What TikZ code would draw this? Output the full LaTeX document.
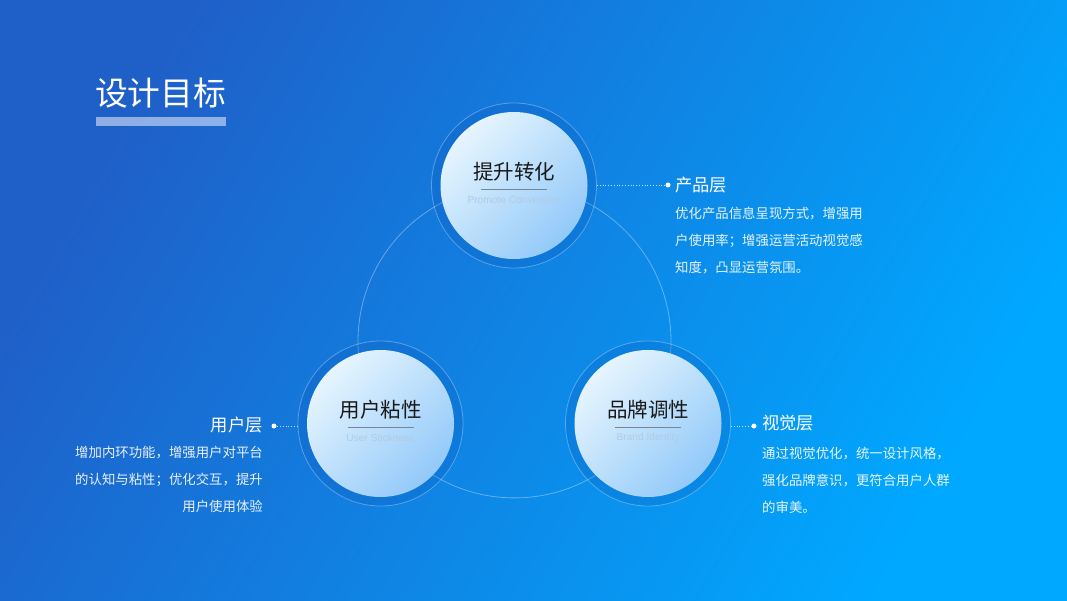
\documentclass[tikz,border=0pt]{standalone}
\usepackage{fontspec}
\setmainfont{Noto Sans CJK SC}
\newfontfamily\latinfont{Liberation Sans}
\definecolor{bgA}{HTML}{1F5FC8}
\definecolor{bgB}{HTML}{00A8FF}
\definecolor{discA}{HTML}{E6F5FE}
\definecolor{discB}{HTML}{92C9F9}
\definecolor{ringdark}{HTML}{0A55B8}
\definecolor{tagcol}{HTML}{B2CBE4}
\definecolor{sepcol}{HTML}{74869A}
\begin{document}
\begin{tikzpicture}[x=1pt,y=1pt,
  ring/.style={circle, inner sep=0, minimum size=165, fill=ringdark, fill opacity=0.22, draw=white, draw opacity=0.3, line width=0.8},
  disc/.style={circle, inner sep=0, minimum size=147, top color=discA, bottom color=discB, shading angle=45},
  ctitle/.style={inner sep=0, text=black!90, font=\fontsize{20.5}{24}\selectfont},
  ctag/.style={inner sep=0, text=tagcol, font=\latinfont\fontsize{10.2}{12}\selectfont},
  sepline/.style={draw=sepcol, line width=0.7},
  bigring/.style={circle, inner sep=0, minimum size=313, draw=white, draw opacity=0.35, line width=0.8},
  dotline/.style={draw=white, draw opacity=0.75, dotted, line width=0.8},
  enddot/.style={circle, fill=white, inner sep=0, minimum size=5},
  head/.style={inner sep=0, text=white, font=\fontsize{17.3}{20}\selectfont},
  body/.style={inner sep=0, text=white, text opacity=0.9, font=\fontsize{13.4}{27}\selectfont}
]
\useasboundingbox (0,0) rectangle (1067,600);
\shade[top color=bgA, bottom color=bgB, shading angle=60] (0,0) rectangle (1067,600);

% title
\node[inner sep=0, anchor=west, text=white, font=\fontsize{32.75}{36}\selectfont] (title) at (95,507) {设计目标};
\fill[white, opacity=0.5] (96,474) rectangle (226,483);

% big connecting circle
\node[bigring] (big) at (514.5,258.6) {};

% rings and discs
\node[ring] (ringT) at (514,414.5) {};
\node[ring] (ringL) at (380.5,176.5) {};
\node[ring] (ringR) at (648,176.5) {};
\node[disc] (T) at (514,414.5) {};
\node[disc] (L) at (380.5,176.5) {};
\node[disc] (R) at (648,176.5) {};

% circle labels
\node[ctitle] (tT) at ([yshift=13.5]T.center) {提升转化};
\draw[sepline] ([shift={(-33,-3.5)}]T.center) -- ([shift={(33,-3.5)}]T.center);
\node[ctag] (eT) at ([yshift=-14.5]T.center) {Promote Conversion};

\node[ctitle] (tL) at ([yshift=13.5]L.center) {用户粘性};
\draw[sepline] ([shift={(-33,-3.5)}]L.center) -- ([shift={(33,-3.5)}]L.center);
\node[ctag] (eL) at ([yshift=-14.5]L.center) {User Stickness};

\node[ctitle] (tR) at ([yshift=13.5]R.center) {品牌调性};
\draw[sepline] ([shift={(-33,-3.5)}]R.center) -- ([shift={(33,-3.5)}]R.center);
\node[ctag] (eR) at ([yshift=-14.5]R.center) {Brand Identity};

% connectors and dots
\node[enddot] (dT) at (668,415) {};
\node[enddot] (dL) at (274,174) {};
\node[enddot] (dR) at (754,174) {};
\draw[dotline] (ringT.east |- dT) -- (dT);
\draw[dotline] (ringL.west |- dL) -- (dL);
\draw[dotline] (ringR.east |- dR) -- (dR);

% side texts
\node[head, anchor=west] (hT) at (675,415) {产品层};
\node[body, anchor=north west, align=left] (bT) at (675,393) {优化产品信息呈现方式，增强用\\户使用率；增强运营活动视觉感\\知度，凸显运营氛围。};

\node[head, anchor=east] (hL) at (263,175) {用户层};
\node[body, anchor=north east, align=right] (bL) at (263,154) {增加内环功能，增强用户对平台\\的认知与粘性；优化交互，提升\\用户使用体验};

\node[head, anchor=west] (hR) at (762,177) {视觉层};
\node[body, anchor=north west, align=left] (bR) at (762,153) {通过视觉优化，统一设计风格，\\强化品牌意识，更符合用户人群\\的审美。};
\end{tikzpicture}
\end{document}
